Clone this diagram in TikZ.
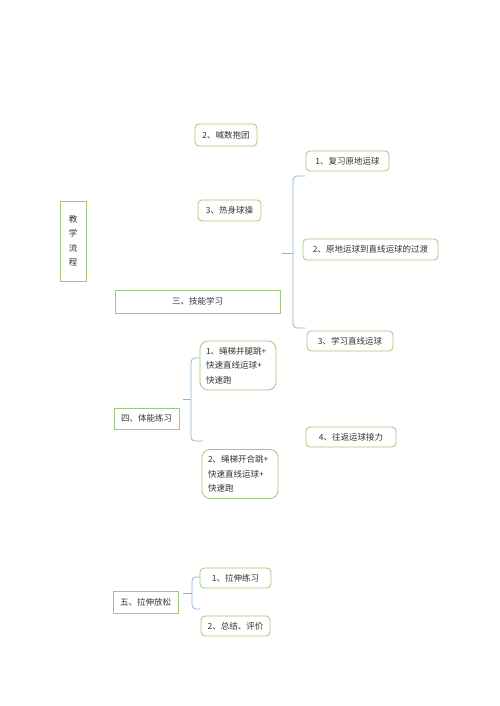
\documentclass[tikz,border=0pt]{standalone}
\usepackage{fontspec}
\setmainfont{Noto Sans CJK SC}
\usetikzlibrary{positioning}
\definecolor{boxgreen}{RGB}{160,200,125}
\definecolor{braceblue}{RGB}{140,178,218}

\begin{document}
\begin{tikzpicture}[x=1pt, y=-1pt, font=\fontsize{8.5}{14.5}\selectfont,
    plainbox/.style={draw=boxgreen, line width=0.8pt, inner sep=0pt, text=black!80},
    roundbox/.style={plainbox, rounded corners=4pt},
    tallbox/.style={plainbox, rounded corners=8pt, align=left, text width=64pt, minimum width=76pt, minimum height=49pt},
    bracket/.style={draw=braceblue, line width=0.8pt, rounded corners=4pt}]
  \useasboundingbox (0,0) rectangle (500,706);

  % left column
  \node[plainbox, minimum width=26pt, minimum height=80pt, align=center] (liucheng) at (73,241) {教\\学\\流\\程};
  \node[roundbox, minimum width=62pt, minimum height=22pt] (hanshu) at (226,135) {2、喊数抱团};
  \node[roundbox, minimum width=63pt, minimum height=21pt] (reshen) at (229.5,210.5) {3、热身球操};
  \node[plainbox, minimum width=165pt, minimum height=23pt] (jineng) at (197.5,301.5) {三、技能学习};
  \node[plainbox, minimum width=65pt, minimum height=21pt] (tineng) at (146.5,418.5) {四、体能练习};
  \node[plainbox, minimum width=65pt, minimum height=22pt] (lashen) at (145.5,602) {五、拉伸放松};

  % skill items
  \node[roundbox, minimum width=83pt, minimum height=20pt] (fuxi) at (347.5,161) {1、复习原地运球};
  \node[roundbox, minimum width=135pt, minimum height=21pt] (guodu) at (370.5,249.5) {2、原地运球到直线运球的过渡};
  \node[roundbox, minimum width=86pt, minimum height=20pt] (zhixian) at (350,341) {3、学习直线运球};

  % fitness items
  \node[tallbox] (bingtui) at (238,365.5) {1、绳梯并腿跳+\\快速直线运球+\\快速跑};
  \node[tallbox] (kaihe) at (240,474) {2、绳梯开合跳+\\快速直线运球+\\快速跑};
  \node[roundbox, minimum width=90pt, minimum height=20pt] (wangfan) at (351,437) {4、往返运球接力};

  % stretching items
  \node[roundbox, minimum width=71pt, minimum height=20pt] (lashenlx) at (235.5,578) {1、拉伸练习};
  \node[roundbox, minimum width=69pt, minimum height=20pt] (zongjie) at (235.5,626) {2、总结、评价};

  % brackets
  \coordinate (skillTip) at (282,253);
  \coordinate (skillTop) at (305,176);
  \coordinate (skillBot) at (305,328);
  \draw[bracket] (skillTop) -- (293,176) -- (293,328) -- (skillBot);
  \draw[bracket] (293,253) -- (skillTip);

  \coordinate (fitTip) at (183,399);
  \coordinate (fitTop) at (200,358);
  \coordinate (fitBot) at (203,441);
  \draw[bracket] (fitTop) -- (191,358) -- (191,441) -- (fitBot);
  \draw[bracket] (191,399) -- (fitTip);

  \coordinate (stretchTip) at (183,593);
  \coordinate (stretchTop) at (200,577);
  \coordinate (stretchBot) at (200,609);
  \draw[bracket] (stretchTop) -- (192,577) -- (192,609) -- (stretchBot);
  \draw[bracket] (192,593) -- (stretchTip);
\end{tikzpicture}
\end{document}
